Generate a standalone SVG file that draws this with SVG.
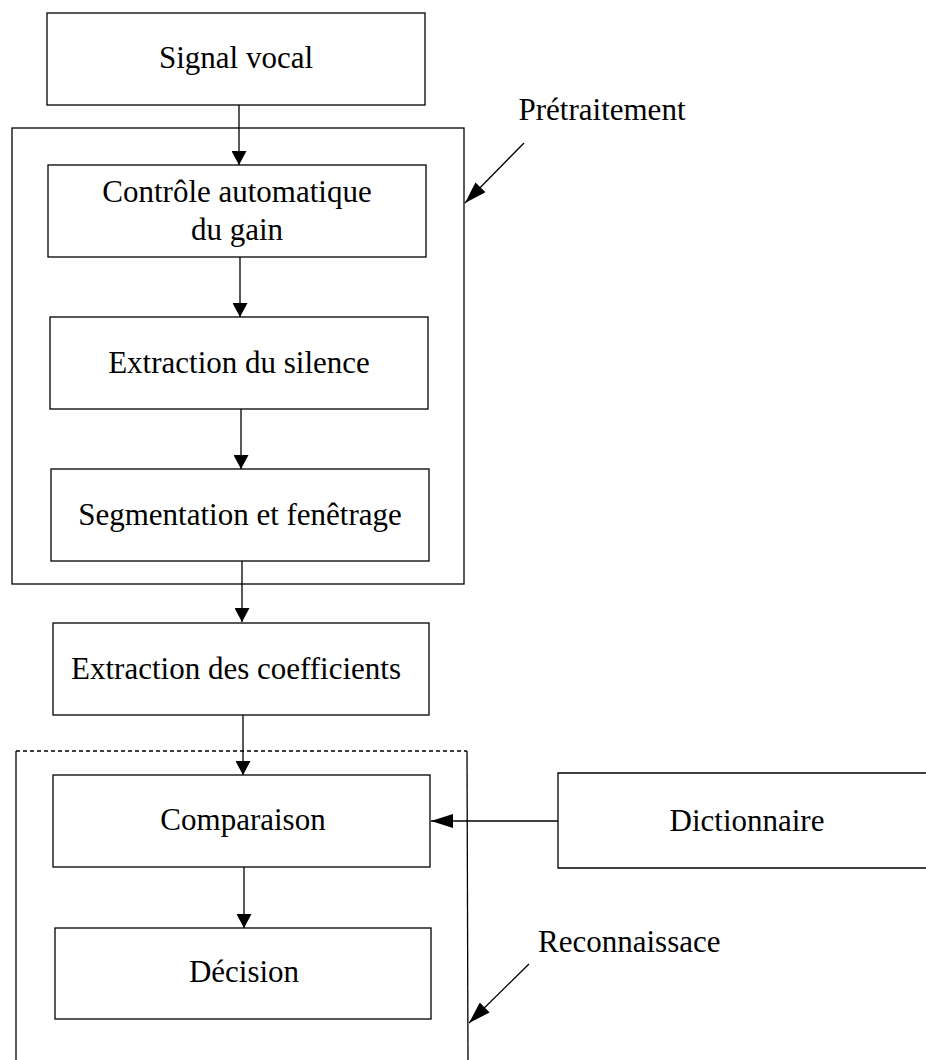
<svg xmlns="http://www.w3.org/2000/svg" width="926" height="1060" viewBox="0 0 926 1060">
  <style>
    .box { fill: #fff; stroke: #000; stroke-width: 1.3; }
    .frame { fill: none; stroke: #000; stroke-width: 1.3; }
    .lbl { font-family: "Liberation Serif", "Times New Roman", serif; font-size: 31px; fill: #000; text-anchor: middle; }
    .lbl-start { font-family: "Liberation Serif", "Times New Roman", serif; font-size: 31px; fill: #000; }
    .wire { fill: none; stroke: #000; stroke-width: 1.3; }
  </style>
  <defs>
    <marker id="head" viewBox="0 0 14 15" refX="14" refY="7.5" markerWidth="14" markerHeight="15" markerUnits="userSpaceOnUse" orient="auto">
      <path d="M0,0 L14,7.5 L0,15 Z" fill="#000"/>
    </marker>
    <marker id="headBig" viewBox="0 0 22 14" refX="22" refY="7" markerWidth="22" markerHeight="14" markerUnits="userSpaceOnUse" orient="auto">
      <path d="M0,0 L22,7 L0,14 Z" fill="#000"/>
    </marker>
  </defs>

  <!-- preprocessing frame -->
  <g id="pretraitement">
    <rect class="frame" x="12" y="128" width="452" height="456"/>
    <text class="lbl" x="602" y="120">Prétraitement</text>
  </g>

  <!-- recognition frame (open at the bottom, dashed top) -->
  <g id="reconnaissance">
    <line class="frame" x1="16" y1="751" x2="467" y2="751" stroke-dasharray="4 3"/>
    <line class="frame" x1="16" y1="751" x2="16" y2="1062"/>
    <line class="frame" x1="467" y1="751" x2="468" y2="1062"/>
    <text class="lbl-start" x="538" y="952">Reconnaissace</text>
  </g>

  <g id="signal">
    <rect class="box" x="47" y="13" width="378" height="92"/>
    <text class="lbl" x="236" y="68">Signal vocal</text>
  </g>

  <g id="controle">
    <rect class="box" x="48" y="165" width="378" height="92"/>
    <text class="lbl" x="237" y="202">Contrôle automatique</text>
    <text class="lbl" x="237" y="240">du gain</text>
  </g>

  <g id="silence">
    <rect class="box" x="50" y="317" width="378" height="92"/>
    <text class="lbl" x="239" y="373">Extraction du silence</text>
  </g>

  <g id="segmentation">
    <rect class="box" x="51" y="469" width="378" height="92"/>
    <text class="lbl" x="240" y="525">Segmentation et fenêtrage</text>
  </g>

  <g id="coefficients">
    <rect class="box" x="53" y="623" width="376" height="92"/>
    <text class="lbl" x="236" y="679">Extraction des coefficients</text>
  </g>

  <g id="comparaison">
    <rect class="box" x="53" y="775" width="377" height="92"/>
    <text class="lbl" x="243" y="830">Comparaison</text>
  </g>

  <g id="decision">
    <rect class="box" x="55" y="928" width="376" height="91"/>
    <text class="lbl" x="244" y="982">Décision</text>
  </g>

  <g id="dictionnaire">
    <path class="frame" d="M932,773 H558 V868 H932"/>
    <text class="lbl" x="747" y="831">Dictionnaire</text>
  </g>

  <g id="connectors">
    <line class="wire" x1="239" y1="105" x2="239" y2="165" marker-end="url(#head)"/>
    <line class="wire" x1="240" y1="257" x2="240" y2="317" marker-end="url(#head)"/>
    <line class="wire" x1="241" y1="409" x2="241" y2="469" marker-end="url(#head)"/>
    <line class="wire" x1="242" y1="561" x2="242" y2="622" marker-end="url(#head)"/>
    <line class="wire" x1="243" y1="715" x2="243" y2="775" marker-end="url(#head)"/>
    <line class="wire" x1="244" y1="867" x2="244" y2="928" marker-end="url(#head)"/>
    <line class="wire" x1="558" y1="821" x2="431" y2="821" marker-end="url(#headBig)"/>
    <line class="wire" x1="524" y1="143" x2="465" y2="203" marker-end="url(#headBig)"/>
    <line class="wire" x1="529" y1="964" x2="469" y2="1023" marker-end="url(#headBig)"/>
  </g>
</svg>
